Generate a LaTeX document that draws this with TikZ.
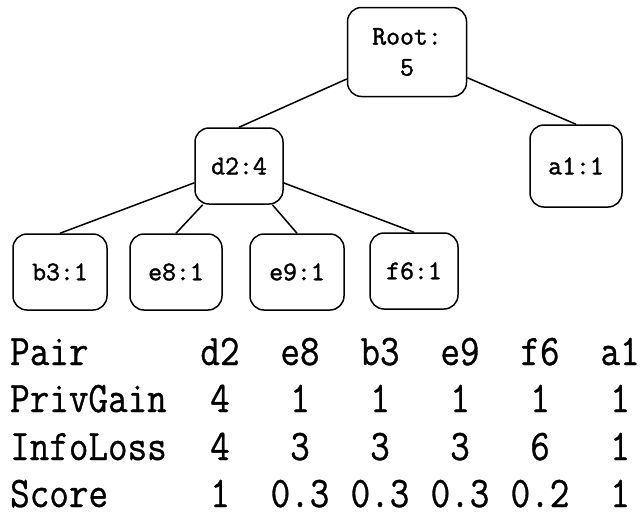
\documentclass[tikz,border=0pt]{standalone}
\usepackage{fontspec}
\usepackage{graphicx}
\newfontfamily\tabmono{Latin Modern Mono}[FakeBold=0.8]
\newfontfamily\nodemono{Latin Modern Mono}[FakeBold=1.5]
\newcommand{\tabfont}{\tabmono\fontsize{38}{40}\selectfont}
\newcommand{\tcell}[1]{\scalebox{1}[1.15]{#1}}
\tikzset{
  tnode/.style={draw, line width=1.5pt, rounded corners=14pt, font=\nodemono\fontsize{27}{29}\selectfont,
    minimum width=92pt, minimum height=76pt, inner sep=0pt},
  link/.style={line width=1.5pt},
  rowlab/.style={anchor=base west, inner sep=0pt, font=\tabfont},
  cell/.style={anchor=base, inner sep=0pt, font=\tabfont}
}
\begin{document}
\begin{tikzpicture}[x=1pt,y=-1pt]
\useasboundingbox (0,0) rectangle (644,520);
\node[tnode, minimum width=119pt, minimum height=89pt, align=center] (root) at (407,52) {Root:\\[2pt]5};
\node[tnode, minimum width=88pt] (d2) at (239,166) {d2:4};
\node[tnode, minimum height=82pt] (a1) at (576,166) {a1:1};
\node[tnode, minimum width=94pt] (b3) at (60,272) {b3:1};
\node[tnode] (e8) at (176,272) {e8:1};
\node[tnode, minimum width=94pt] (e9) at (297,272) {e9:1};
\node[tnode, minimum width=88pt] (f6) at (414,271) {f6:1};
\draw[link] (root) -- (d2.north);
\draw[link] (root) -- (a1.north);
\draw[link] (d2) -- (b3.north);
\draw[link] (d2) -- (e8.north);
\draw[link] (d2) -- (e9.north);
\draw[link] (d2) -- (f6.north);
% table
\node[rowlab] (r1) at (10,365) {\tcell{Pair}};
\node[rowlab] (r2) at (10,412) {\tcell{PrivGain}};
\node[rowlab] (r3) at (10,460) {\tcell{InfoLoss}};
\node[rowlab] (r4) at (10,507) {\tcell{Score}};
\foreach \x/\a/\b/\c/\d [count=\i] in {220/d2/4/4/1, 300/e8/1/3/0.3, 380/b3/1/3/0.3, 460/e9/1/3/0.3, 540/f6/1/6/0.2, 620/a1/1/1/1}{
  \node[cell] (p\i) at (\x,365) {\tcell{\a}};
  \node[cell] (g\i) at (\x,412) {\tcell{\b}};
  \node[cell] (l\i) at (\x,460) {\tcell{\c}};
  \node[cell] (s\i) at (\x,507) {\tcell{\d}};
}
\end{tikzpicture}
\end{document}
